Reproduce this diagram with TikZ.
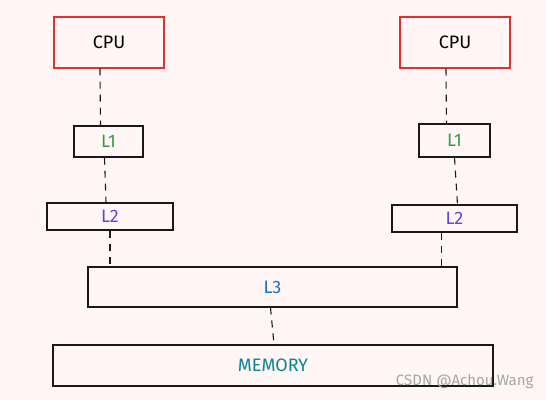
\documentclass[tikz,border=0pt]{standalone}
\usepackage{fontspec}
\setmainfont{Fira Sans}
\usepackage{tikz}
\usetikzlibrary{positioning,calc}

\definecolor{paper}{HTML}{FFF6F5}
\definecolor{cpured}{HTML}{E03131}
\definecolor{lonegreen}{HTML}{2F9E44}
\definecolor{ltwoviolet}{HTML}{6741D9}
\definecolor{lthreeblue}{HTML}{1971C2}
\definecolor{memteal}{HTML}{0C8599}

\begin{document}
\begin{tikzpicture}[
  x=1pt, y=-1pt,
  cache/.style={draw=black!90, line width=1.1pt, inner sep=0pt, font=\fontsize{18}{18}\selectfont},
  cpu/.style={cache, draw=cpured, minimum width=110pt, minimum height=51pt},
  link/.style={dash pattern=on 7pt off 6pt, line width=1.1pt, black!90}
]

% canvas
\fill[paper] (0,0) rectangle (546,400);
\useasboundingbox (0,0) rectangle (546,400);

% === left core ===
\node[cpu] (cpuL) at (109, 42.5) {CPU};
\node[cache, minimum width=69pt, minimum height=31pt, text=lonegreen] (l1L) at (108.5, 141.5) {L1};
\node[cache, minimum width=126pt, minimum height=27pt, text=ltwoviolet] (l2L) at (110, 216.5) {L2};

% === right core ===
\node[cpu] (cpuR) at (455, 42.5) {CPU};
\node[cache, minimum width=71pt, minimum height=33pt, text=lonegreen] (l1R) at (454.5, 140.5) {L1};
\node[cache, minimum width=125pt, minimum height=27pt, text=ltwoviolet] (l2R) at (454.5, 218.5) {L2};

% === shared ===
\node[cache, minimum width=369pt, minimum height=40pt, text=lthreeblue] (l3) at (272.5, 287) {L3};
\node[cache, minimum width=440pt, minimum height=41pt, text=memteal] (mem) at (273, 365.5) {MEMORY};

% links
\draw[link] ([xshift=-9pt]cpuL.south) -- ([xshift=-8pt]l1L.north);
\draw[link] ([xshift=-4pt]l1L.south) -- ([xshift=-4pt]l2L.north);
\draw[link] (l2L.south) -- (l2L.south |- l3.north);
\draw[link] ([xshift=-9pt]cpuR.south) -- ([xshift=-8pt]l1R.north);
\draw[link] (l1R.south) -- ([xshift=3pt]l2R.north);
\draw[link] ([xshift=-13pt]l2R.south) -- ([xshift=-13pt]l2R.south |- l3.north);
\draw[link] ([xshift=-2pt]l3.south) -- ([xshift=1pt]mem.north);

% watermark
\node[font=\fontsize{15}{15}\selectfont, text=black!35, anchor=east] (mark) at (537, 381) {CSDN @Achou.Wang};

\end{tikzpicture}
\end{document}
